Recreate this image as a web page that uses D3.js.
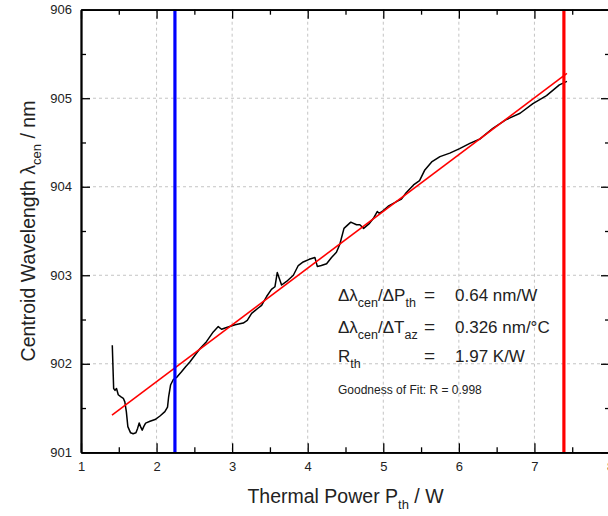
<!DOCTYPE html>
<html>
<head>
<meta charset="utf-8">
<script src="https://cdn.jsdelivr.net/npm/d3@7"></script>
<style>
  body { margin: 0; background: #fff; }
  svg { display: block; font-family: "Liberation Sans", Arial, sans-serif; }
</style>
</head>
<body>
<div id="chart"></div>
<script>
// measured curve: thermal power (W) vs centroid wavelength (nm)
const powerW = [1.414, 1.432, 1.45, 1.47, 1.493, 1.525, 1.56, 1.58, 1.60, 1.62, 1.656, 1.69, 1.727, 1.749, 1.77, 1.788, 1.81, 1.83, 1.855, 1.913,
  1.98, 2.045, 2.11, 2.145, 2.16, 2.185, 2.22, 2.27, 2.33, 2.387, 2.44, 2.51, 2.573, 2.66, 2.75, 2.816, 2.86, 2.926, 3.04, 3.147,
  3.2, 3.258, 3.345, 3.39, 3.456, 3.52, 3.566, 3.597, 3.654, 3.72, 3.81, 3.875, 3.94, 4.02, 4.095, 4.127, 4.18, 4.25, 4.315, 4.38,
  4.425, 4.48, 4.57, 4.646, 4.69, 4.74, 4.81, 4.875, 4.92, 4.946, 5.0, 5.065, 5.17, 5.24, 5.30, 5.40, 5.48, 5.55, 5.64, 5.75,
  5.88, 6.01, 6.145, 6.28, 6.45, 6.63, 6.81, 6.98, 7.16, 7.33, 7.43];
const wavelengthNm = [902.21, 901.72, 901.70, 901.72, 901.65, 901.63, 901.61, 901.57, 901.46, 901.29, 901.22, 901.21, 901.22, 901.27, 901.33, 901.29, 901.25, 901.29, 901.33, 901.35,
  901.37, 901.41, 901.46, 901.51, 901.63, 901.76, 901.82, 901.85, 901.91, 901.97, 902.02, 902.10, 902.17, 902.25, 902.36, 902.42, 902.39, 902.41, 902.44, 902.46,
  902.49, 902.57, 902.63, 902.66, 902.76, 902.84, 902.87, 903.03, 902.89, 902.93, 903.00, 903.11, 903.15, 903.18, 903.20, 903.10, 903.11, 903.13, 903.20, 903.26,
  903.35, 903.53, 903.60, 903.57, 903.57, 903.53, 903.58, 903.65, 903.72, 903.70, 903.73, 903.78, 903.83, 903.86, 903.93, 904.02, 904.07, 904.19, 904.28, 904.34,
  904.38, 904.43, 904.49, 904.54, 904.66, 904.76, 904.83, 904.94, 905.03, 905.15, 905.19];

// linear fit end points
const fitX = [1.41, 7.43];
const fitY = [901.42, 905.28];

// vertical markers
const markerX = [2.243, 7.39];
const markerColors = ["#0000ff", "#ff0000"];

// axes
const xTicks = [1, 2, 3, 4, 5, 6, 7, 8];
const yTicks = [901, 902, 903, 904, 905, 906];
const xMinor = [1.5, 2.5, 3.5, 4.5, 5.5, 6.5, 7.5];
const yMinor = [901.5, 902.5, 903.5, 904.5, 905.5];

const width = 608, height = 516;
const margin = {left: 81, top: 9.7, right: -2, bottom: 63.7};
const W = width - margin.left - margin.right;
const H = height - margin.top - margin.bottom;

const x = d3.scaleLinear().domain([1, 8]).range([0, W]);
const y = d3.scaleLinear().domain([901, 906]).range([H, 0]);

const svg = d3.select("#chart").append("svg")
    .attr("width", width)
    .attr("height", height);

const g = svg.append("g").attr("transform", `translate(${margin.left},${margin.top})`);

// grid
g.append("g").selectAll("line")
    .data(xTicks.slice(1, -1))
    .enter().append("line")
    .attr("x1", d => x(d)).attr("x2", d => x(d))
    .attr("y1", 0).attr("y2", H)
    .attr("stroke", "#c4c4c4").attr("stroke-dasharray", "3,3");
g.append("g").selectAll("line")
    .data(yTicks.slice(1, -1))
    .enter().append("line")
    .attr("y1", d => y(d)).attr("y2", d => y(d))
    .attr("x1", 0).attr("x2", W)
    .attr("stroke", "#c4c4c4").attr("stroke-dasharray", "3,3");

// data + fit
const line = d3.line().x(d => x(d[0])).y(d => y(d[1]));
g.append("path")
    .datum(d3.zip(powerW, wavelengthNm))
    .attr("d", line)
    .attr("fill", "none").attr("stroke", "#000").attr("stroke-width", 1.5)
    .attr("stroke-linejoin", "round");

g.append("path")
    .datum(d3.zip(fitX, fitY))
    .attr("d", line)
    .attr("fill", "none").attr("stroke", "#ff0000").attr("stroke-width", 1.6);

g.append("g").selectAll("line")
    .data(markerX)
    .enter().append("line")
    .attr("x1", d => x(d)).attr("x2", d => x(d))
    .attr("y1", 0).attr("y2", H)
    .attr("stroke", (d, i) => markerColors[i]).attr("stroke-width", 3.2);

// axes (inward ticks on all four sides)
function styleAxis(sel) {
    sel.select(".domain").attr("stroke-width", 1.8);
    sel.selectAll(".tick line").attr("stroke-width", 1.3);
    sel.selectAll("text").attr("font-size", 13).attr("fill", "#222");
}

g.append("g").attr("transform", `translate(0,${H})`)
    .call(d3.axisBottom(x).tickValues(xTicks).tickSizeInner(-9).tickSizeOuter(0).tickPadding(9.5).tickFormat(d3.format("d")))
    .call(styleAxis);
g.append("g").attr("transform", `translate(0,${H})`)
    .call(d3.axisBottom(x).tickValues(xMinor).tickSizeInner(-5).tickSizeOuter(0).tickFormat(""))
    .call(styleAxis);
g.append("g")
    .call(d3.axisTop(x).tickValues(xTicks).tickSizeInner(-9).tickSizeOuter(0).tickFormat(""))
    .call(styleAxis);
g.append("g")
    .call(d3.axisTop(x).tickValues(xMinor).tickSizeInner(-5).tickSizeOuter(0).tickFormat(""))
    .call(styleAxis);

g.append("g")
    .call(d3.axisLeft(y).tickValues(yTicks).tickSizeInner(-9).tickSizeOuter(0).tickPadding(9).tickFormat(d3.format("d")))
    .call(styleAxis);
g.append("g")
    .call(d3.axisLeft(y).tickValues(yMinor).tickSizeInner(-5).tickSizeOuter(0).tickFormat(""))
    .call(styleAxis);
g.append("g").attr("transform", `translate(${W},0)`)
    .call(d3.axisRight(y).tickValues(yTicks).tickSizeInner(-9).tickSizeOuter(0).tickFormat(""))
    .call(styleAxis);
g.append("g").attr("transform", `translate(${W},0)`)
    .call(d3.axisRight(y).tickValues(yMinor).tickSizeInner(-5).tickSizeOuter(0).tickFormat(""))
    .call(styleAxis);

// axis titles
const xt = svg.append("text")
    .attr("x", margin.left + W / 2).attr("y", 503)
    .attr("text-anchor", "middle").attr("font-size", 19.5).attr("fill", "#222");
xt.append("tspan").text("Thermal Power P");
xt.append("tspan").attr("dy", 6).attr("font-size", 13).text("th");
xt.append("tspan").attr("dy", -6).text(" / W");

const yt = svg.append("text")
    .attr("transform", `translate(35,${margin.top + H / 2}) rotate(-90)`)
    .attr("text-anchor", "middle").attr("font-size", 19.5).attr("fill", "#222");
yt.append("tspan").text("Centroid Wavelength λ");
yt.append("tspan").attr("dy", 6).attr("font-size", 13).text("cen");
yt.append("tspan").attr("dy", -6).text(" / nm");

// annotation
const ann = svg.append("g").attr("font-size", 17).attr("fill", "#222");
const annRows = [
    {y: 301, parts: [["Δλ", 0], ["cen", 1], ["/ΔP", 0], ["th", 1]], value: "0.64 nm/W"},
    {y: 333, parts: [["Δλ", 0], ["cen", 1], ["/ΔT", 0], ["az", 1]], value: "0.326 nm/°C"},
    {y: 362, parts: [["R", 0], ["th", 1]], value: "1.97 K/W"}
];
annRows.forEach(r => {
    const t = ann.append("text").attr("x", 338).attr("y", r.y).attr("fill", "#222");
    let sub = 0;
    r.parts.forEach(p => {
        const dy = p[1] ? (sub ? 0 : 6) : (sub ? -6 : 0);
        sub = p[1];
        t.append("tspan").attr("dy", dy).attr("font-size", p[1] ? 12.5 : 17).text(p[0]);
    });
    ann.append("text").attr("x", 424).attr("y", r.y).attr("font-size", 19).text("=");
    ann.append("text").attr("x", 455).attr("y", r.y).text(r.value);
});
ann.append("text").attr("x", 338).attr("y", 394).attr("font-size", 12).text("Goodness of Fit: R = 0.998");
</script>
</body>
</html>
